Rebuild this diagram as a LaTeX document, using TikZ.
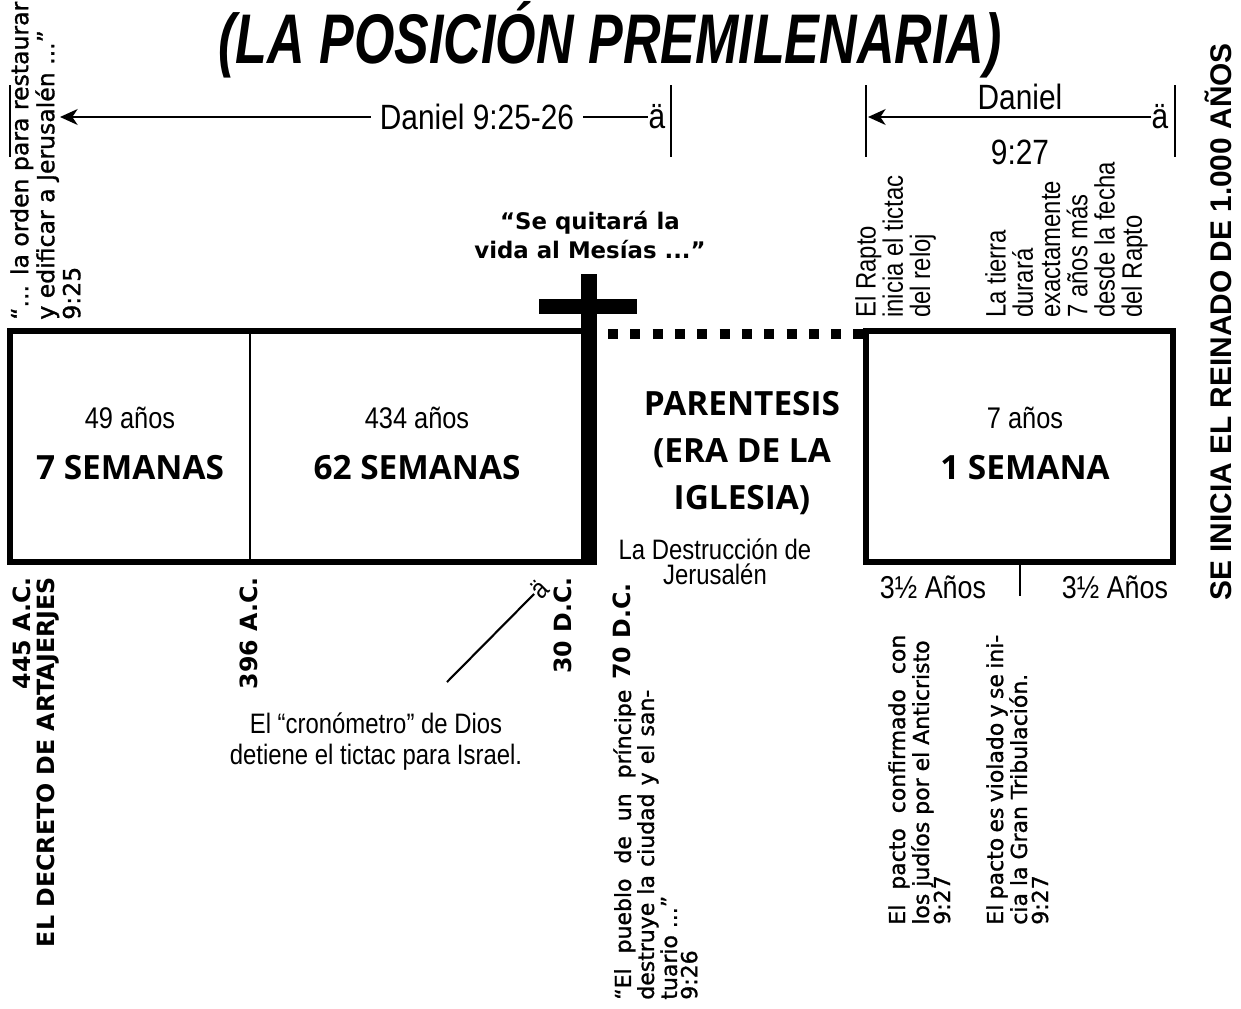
\documentclass[tikz,border=0pt]{standalone}
\usepackage{fontspec}
\setmainfont{Liberation Sans}
\newfontfamily\narrowfont[FakeStretch=0.85]{Liberation Sans}
\newfontfamily\titlefont[FakeStretch=0.74]{Liberation Sans}
\newfontfamily\boxfont{Open Sans}
\newfontfamily\notefont{DejaVu Sans}
\newfontfamily\medfont[FakeBold=1.2]{DejaVu Sans}
\usetikzlibrary{arrows.meta,positioning}

\begin{document}
\begin{tikzpicture}[x=0.02cm,y=-0.02cm,
>={Stealth[length=10pt,width=9pt,inset=3pt]},
node distance=1cm]

\tikzstyle{narrowtxt}=[inner sep=0pt,font=\narrowfont\fontsize{16}{15.5}\selectfont]
\tikzstyle{boxtxt}=[inner sep=0pt,align=center,font=\boxfont\bfseries\fontsize{19}{26.5}\selectfont]
\tikzstyle{datelbl}=[rotate=90,anchor=east,inner sep=0pt,font=\notefont\bfseries\fontsize{13.5}{14}\selectfont]
\tikzstyle{quotetxt}=[rotate=90,anchor=north west,inner sep=0pt,align=justify,font=\medfont\fontsize{12.5}{12}\selectfont]
\tikzstyle{spanline}=[line width=1.4pt]
\tikzstyle{tickline}=[line width=1.2pt]

\useasboundingbox (0,0) rectangle (1241,1008);

%title
\node[font=\titlefont\bfseries\itshape\fontsize{40}{40}\selectfont]
(title) at (610,40)
{(LA POSICIÓN PREMILENARIA)};

%spans on top
\draw[tickline] (10,85) -- (10,157);
\draw[tickline] (671,85) -- (671,157);
\draw[tickline] (866,85) -- (866,157);
\draw[tickline] (1175,85) -- (1175,157);

\node[narrowtxt,inner xsep=5pt,font=\narrowfont\fontsize{20}{20}\selectfont]
(d1) at (477,117)
{Daniel 9:25-26};
\node[narrowtxt,font=\narrowfont\fontsize{20}{20}\selectfont]
(a1) at (657,117)
{ä};
\coordinate (l1) at (60,117);
\path[->,spanline] (d1) edge (l1);
\path[spanline] (d1) edge (a1);

\node[narrowtxt,font=\narrowfont\fontsize{20}{20}\selectfont]
(d2) at (1020,97)
{Daniel};
\node[narrowtxt,font=\narrowfont\fontsize{20}{20}\selectfont]
(d3) at (1020,152)
{9:27};
\node[narrowtxt,font=\narrowfont\fontsize{20}{20}\selectfont]
(a2) at (1160,117)
{ä};
\coordinate (r1) at (868,117);
\path[->,spanline] (a2) edge (r1);

\node[quotetxt,text width=6.4cm,font=\medfont\fontsize{13.4}{14.8}\selectfont]
(q1) at (10,320)
{“... la orden para restaurar\\ y edificar a Jerusalén ...”\\ 9:25};

%the weeks
\draw[line width=3pt] (585,331) -- (10,331) -- (10,562) -- (585,562);
\draw[tickline] (250,331) -- (250,562);
\draw[line width=3pt] (866,331) rectangle (1173,562);
\draw[line width=5.7pt,dash pattern=on 5.7pt off 7pt] (608,334) -- (866,334);
\draw[line width=1.6pt] (1020,562) -- (1020,596);

%cross
\fill (581,274) rectangle (597,565);
\fill (539,299) rectangle (637,314);

\node[narrowtxt,align=center,font=\notefont\bfseries\fontsize{13}{17}\selectfont]
(m1) at (590,235)
{“Se quitará la\\ vida al Mesías ...”};

\node[narrowtxt,font=\narrowfont\fontsize{17}{17}\selectfont]
(y1) at (130,418)
{49 años};
\node[boxtxt]
(s1) [below of=y1]
{7 SEMANAS};

\node[narrowtxt,font=\narrowfont\fontsize{17}{17}\selectfont]
(y2) at (417,418)
{434 años};
\node[boxtxt]
(s2) [below of=y2]
{62 SEMANAS};

\node[boxtxt]
(p1) at (742,453)
{PARENTESIS\\ (ERA DE LA\\ IGLESIA)};

\node[narrowtxt,font=\narrowfont\fontsize{17}{17}\selectfont]
(y3) at (1025,418)
{7 años};
\node[boxtxt]
(s3) [below of=y3]
{1 SEMANA};

\node[narrowtxt,align=center,font=\narrowfont\fontsize{16}{14.5}\selectfont]
(j1) at (715,562)
{La Destrucción de\\ Jerusalén};

\node[narrowtxt,font=\narrowfont\fontsize{18}{18}\selectfont]
(h1) at (933,587)
{3½ Años};
\node[narrowtxt,font=\narrowfont\fontsize{18}{18}\selectfont]
(h2) at (1115,587)
{3½ Años};

%notes above the last week
\node[narrowtxt,rotate=90,anchor=north west,align=left]
(r2) at (855,318)
{El Rapto\\ inicia el tictac\\ del reloj};
\node[narrowtxt,rotate=90,anchor=north west,align=left]
(r3) at (985,318)
{La tierra\\ durará\\ exactamente\\ 7 años más\\ desde la fecha\\ del Rapto};

\node[rotate=90,inner sep=0pt,font=\bfseries\fontsize{17}{17}\selectfont]
(k1) at (1218,322)
{SE INICIA EL REINADO DE 1.000 AÑOS};

%dates
\node[datelbl] (t1) at (22,577) {445 A.C.};
\node[datelbl] (t2) at (48,577) {EL DECRETO DE ARTAJERJES};
\node[datelbl] (t3) at (249,577) {396 A.C.};
\node[datelbl] (t4) at (563,577) {30 D.C.};
\node[datelbl] (t5) at (622,583) {70 D.C.};

\node[quotetxt,text width=6.2cm,font=\medfont\fontsize{12.5}{11.5}\selectfont]
(q2) at (613,1000)
{“El pueblo de un príncipe\linebreak destruye la ciudad y el san-\linebreak tuario ...”\\ 9:26};

\node[quotetxt,text width=5.8cm]
(q3) at (888,925)
{El pacto confirmado con\linebreak los judíos por el Anticristo\\ 9:27};
\node[quotetxt,text width=5.8cm]
(q4) at (986,925)
{El pacto es violado y se ini-\linebreak cia la Gran Tribulación.\\ 9:27};

%the clock
\node[narrowtxt,align=center,font=\narrowfont\fontsize{16}{17.6}\selectfont]
(c1) at (376,742)
{El “cronómetro” de Dios\\ detiene el tictac para Israel.};
\coordinate (c2) at (447,682);
\node[narrowtxt,rotate=45,font=\narrowfont\fontsize{16}{16}\selectfont]
(a3) at (539,589)
{ä};
\path[tickline] (c2) edge (a3);

\end{tikzpicture}
\end{document}
